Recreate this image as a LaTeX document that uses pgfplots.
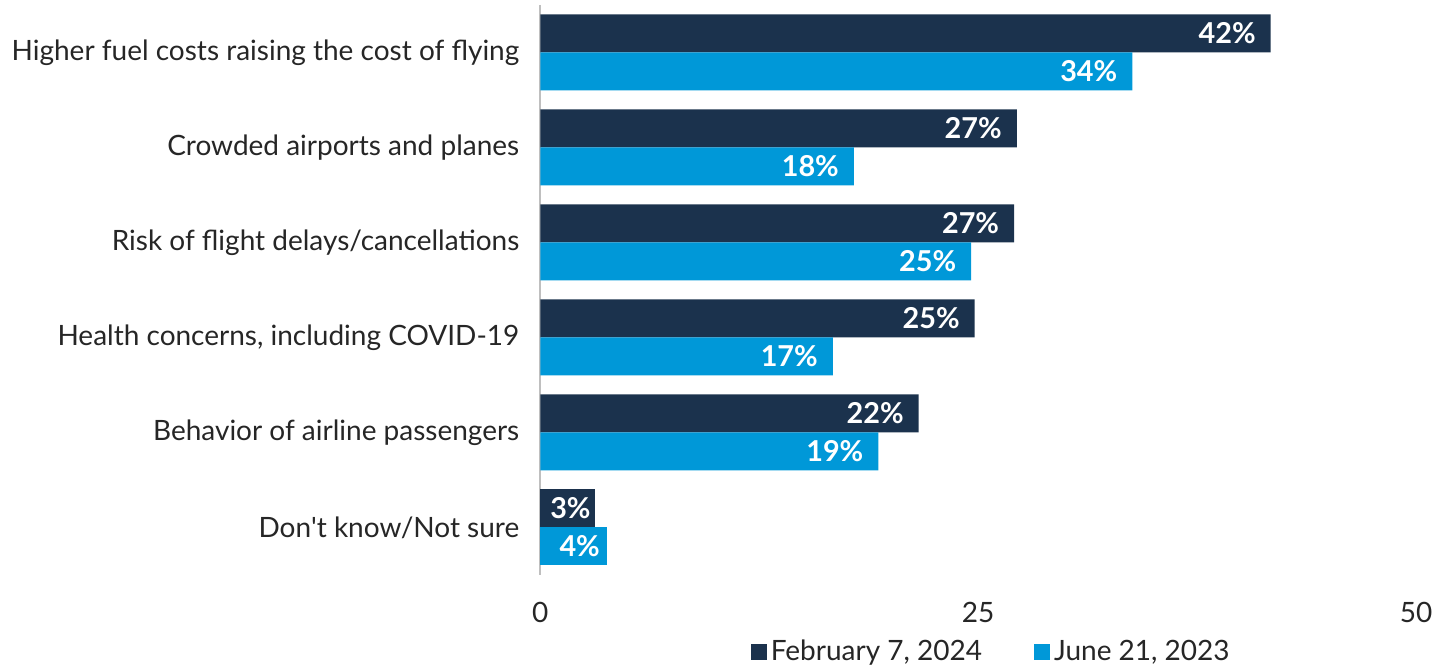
\documentclass[border=0pt]{standalone}
\usepackage{pgfplots}
\pgfplotsset{compat=1.18}
\usepackage{fontspec}
\setmainfont{Lato}
\definecolor{navy}{HTML}{1B324D}
\definecolor{sky}{HTML}{0098D8}
\definecolor{axisgray}{HTML}{BFBFBF}
\begin{document}
\begin{tikzpicture}
\begin{axis}[
    xbar,
    width=438pt, height=285pt,
    scale only axis,
    xmin=0, xmax=50,
    ymin=-0.5, ymax=5.5,
    y dir=reverse,
    bar width=19pt,
    xtick={0,25,50},
    ytick={0,1,2,3,4,5},
    yticklabels={Higher fuel costs raising the cost of flying,
        Crowded airports and planes,
        Risk of flight delays/cancellations,
        {Health concerns, including COVID-19},
        Behavior of airline passengers,
        Don\textquotesingle t know/Not sure},
    major tick length=0pt,
    axis x line*=bottom,
    x axis line style={draw=none},
    axis y line*=left,
    y axis line style={draw=axisgray, line width=1pt, -},
    x tick label style={font=\fontsize{14}{16}\selectfont, text=black!85, yshift=-10pt},
    y tick label style={font=\fontsize{14}{16}\selectfont, text=black!85, xshift=-7pt},
    /pgf/number format/assume math mode=true,
    point meta=explicit symbolic,
    nodes near coords={\pgfplotspointmeta},
    every node near coord/.append style={anchor=east, xshift=-4pt,
        text=white, font=\bfseries\fontsize{14.4}{16}\selectfont},
    legend style={at={(0.5,0)}, anchor=north, xshift=7pt, yshift=-28.5pt, draw=none,
        legend columns=2, font=\fontsize{14}{16}\selectfont, text=black!85,
        /tikz/every even column/.append style={column sep=24pt}},
    legend image code/.code={\fill[#1] (0pt,-4pt) rectangle (8pt,4pt);},
    clip=false,
]
\addplot[fill=navy, draw=none, bar shift=9.5pt] coordinates {
    (41.7,0) [42\%]
    (27.2,1) [27\%]
    (27.05,2) [27\%]
    (24.8,3) [25\%]
    (21.6,4) [22\%]
};
\addplot[fill=sky, draw=none, bar shift=-9.5pt] coordinates {
    (33.8,0) [34\%]
    (17.9,1) [18\%]
    (24.6,2) [25\%]
    (16.7,3) [17\%]
    (19.3,4) [19\%]
};
% short bars: labels sit closer to the bar end
\addplot[fill=navy, draw=none, bar shift=9.5pt, forget plot,
    every node near coord/.append style={xshift=5.5pt}] coordinates {
    (3.1,5) [3\%]
};
\addplot[fill=sky, draw=none, bar shift=-9.5pt, forget plot,
    every node near coord/.append style={xshift=4pt}] coordinates {
    (3.8,5) [4\%]
};
\legend{{February 7, 2024}, {June 21, 2023}}
\end{axis}
\path ([yshift=2.5pt]current axis.north);
\path ([xshift=-2.5pt]current bounding box.west);
\end{tikzpicture}
\end{document}
